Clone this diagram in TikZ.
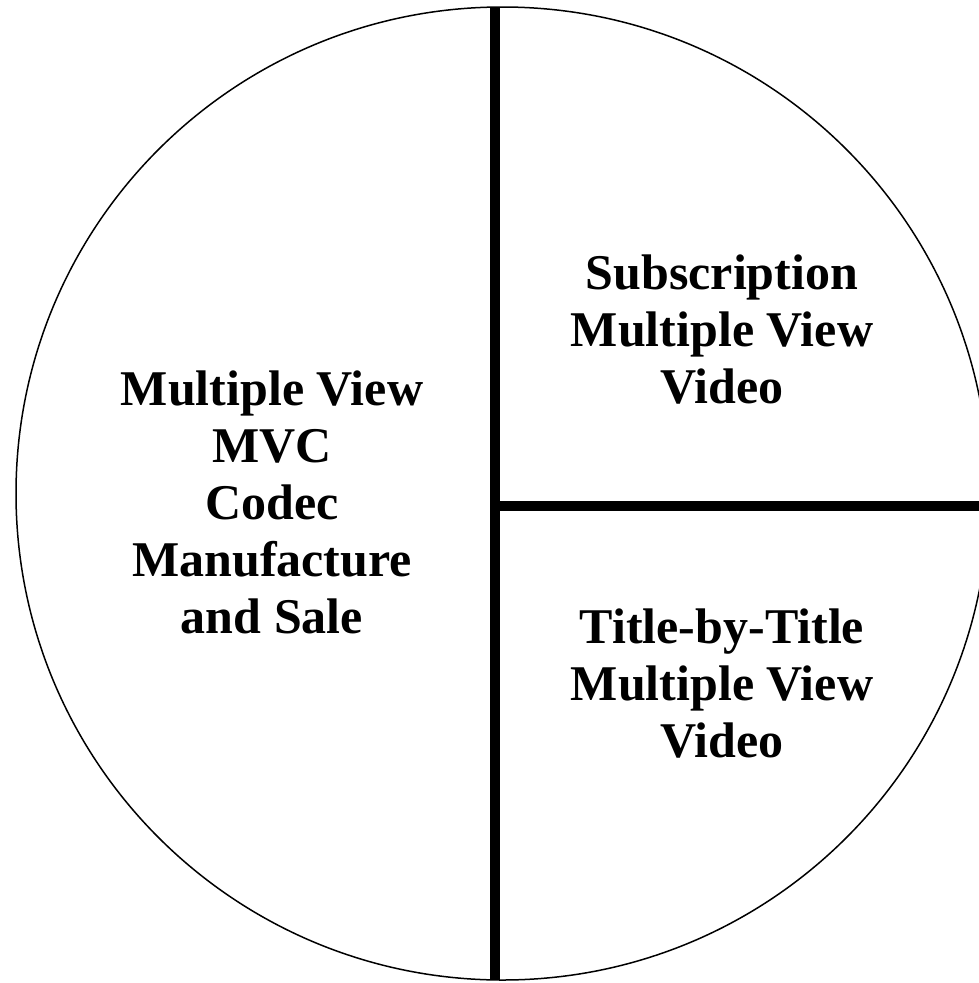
\documentclass[tikz,border=0pt]{standalone}
\usepackage{fontspec}
\setmainfont{Liberation Serif}
\begin{document}
\begin{tikzpicture}[x=1pt,y=-1pt,
  divider/.style={line width=10pt,line cap=butt},
  rim/.style={line width=1.5pt},
  label/.style={align=center,inner sep=0pt,font=\fontsize{50}{57}\selectfont\bfseries}]
\useasboundingbox (0,0) rectangle (979,983);
\clip (0,0) rectangle (979,983);
\draw[rim] (502.5,493.5) circle[radius=486.5];
\coordinate (vt) at (495,7);
\coordinate (vb) at (495,980);
\coordinate (hl) at (495,505.5);
\coordinate (hr) at (979,505.5);
\draw[divider] (vt) -- (vb);
\draw[divider] (hl) -- (hr);
\node[label] (left) at (272,502) {Multiple View\\MVC\\Codec\\Manufacture\\and Sale};
\node[label] (sub) at (722,330) {Subscription\\Multiple View\\Video};
\node[label] (tbt) at (722,684) {Title-by-Title\\Multiple View\\Video};
\end{tikzpicture}
\end{document}
